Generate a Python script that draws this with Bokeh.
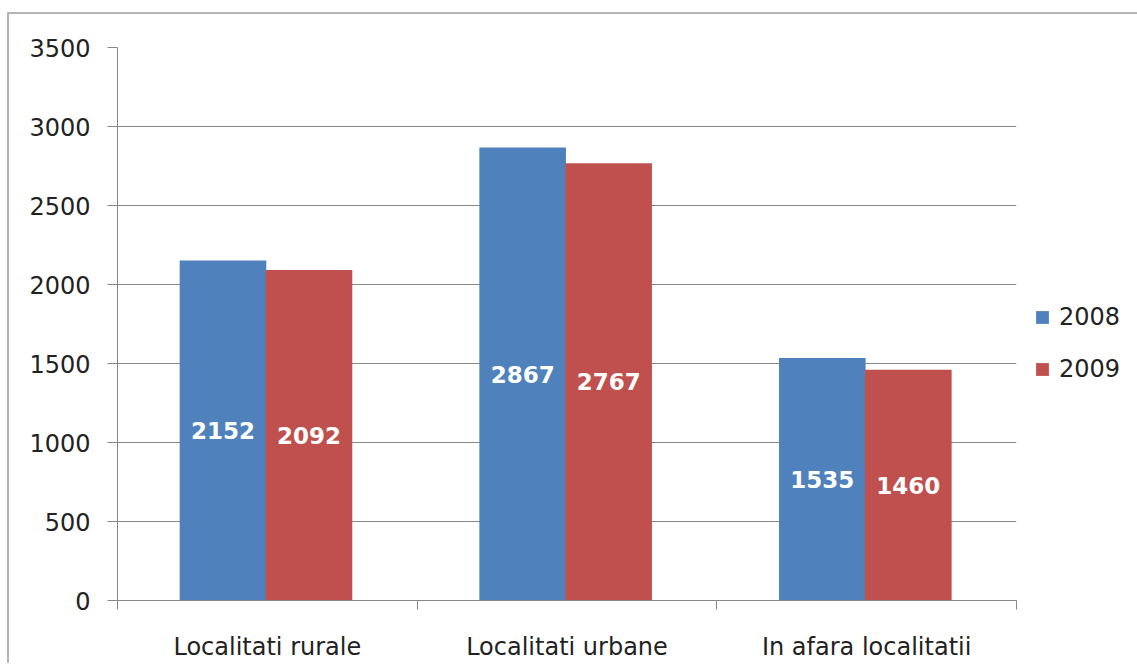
from bokeh.plotting import figure
from bokeh.models import (ColumnDataSource, Range1d, FixedTicker, Legend, LegendItem, LabelSet)
from bokeh.core.properties import value
from bokeh.embed import file_html
from bokeh.resources import INLINE

categories = ["Localitati rurale", "Localitati urbane", "In afara localitatii"]
years = ["2008", "2009"]
values_2008 = [2152, 2867, 1535]
values_2009 = [2092, 2767, 1460]
y_ticks = [0, 500, 1000, 1500, 2000, 2500, 3000, 3500]

BLUE = "#4F81BD"
RED = "#C0504D"
GRAY = "#868686"
FONT = "DejaVu Sans"

idx = list(range(len(categories)))
src08 = ColumnDataSource(dict(x=[i + 0.352 for i in idx], top=values_2008,
                              mid=[v / 2 for v in values_2008], lab=[str(v) for v in values_2008]))
src09 = ColumnDataSource(dict(x=[i + 0.639 for i in idx], top=values_2009,
                              mid=[v / 2 for v in values_2009], lab=[str(v) for v in values_2009]))

p = figure(width=1126, height=655, frame_width=899, frame_height=553,
           min_border_left=108, min_border_top=33, min_border_bottom=10, min_border_right=10,
           x_range=Range1d(0, 3), y_range=Range1d(0, 3500),
           output_backend="svg", toolbar_location=None,
           margin=(12, 0, 0, 7),
           styles={"border-top": "2px solid #b4b4b4", "border-left": "2px solid #b4b4b4"})
p.outline_line_color = None
p.background_fill_color = "white"
p.border_fill_color = "white"

r1 = p.vbar(x="x", top="top", width=0.289, bottom=0, source=src08, fill_color=BLUE, line_color=None)
r2 = p.vbar(x="x", top="top", width=0.289, bottom=0, source=src09, fill_color=RED, line_color=None)

for s in (src08, src09):
    p.add_layout(LabelSet(x="x", y="mid", text="lab", source=s, text_color="white",
                          text_font=value(FONT), text_font_style="bold", text_font_size="23px",
                          text_align="center", text_baseline="middle"))

# y axis
p.yaxis.ticker = FixedTicker(ticks=y_ticks)
p.yaxis.axis_line_color = GRAY
p.yaxis.major_tick_line_color = GRAY
p.yaxis.major_tick_out = 10
p.yaxis.major_tick_in = 0
p.yaxis.minor_tick_line_color = None
p.yaxis.major_label_text_font = FONT
p.yaxis.major_label_text_font_size = "24px"
p.yaxis.major_label_text_color = "#222222"
p.yaxis.major_label_standoff = 17

# x axis
p.xaxis.ticker = FixedTicker(ticks=[i + 0.5 for i in idx], minor_ticks=[0, 1, 2, 3])
p.xaxis.major_label_overrides = {i + 0.5: c for i, c in zip(idx, categories)}
p.xaxis.axis_line_color = GRAY
p.xaxis.major_tick_line_color = None
p.xaxis.major_tick_out = 0
p.xaxis.major_tick_in = 0
p.xaxis.minor_tick_line_color = GRAY
p.xaxis.minor_tick_out = 9
p.xaxis.minor_tick_in = 0
p.xaxis.major_label_text_font = FONT
p.xaxis.major_label_text_font_size = "24px"
p.xaxis.major_label_text_color = "#222222"
p.xaxis.major_label_standoff = 23

p.xgrid.grid_line_color = None
p.ygrid.grid_line_color = GRAY
p.ygrid.grid_line_width = 1

legend = Legend(items=[LegendItem(label=years[0], renderers=[r1]),
                       LegendItem(label=years[1], renderers=[r2])],
                location=(18, 217), orientation="vertical",
                glyph_width=16, glyph_height=16, label_text_font=FONT,
                label_text_font_size="24px", label_text_color="#222222",
                label_standoff=9, spacing=24, padding=0, margin=0,
                border_line_color=None, background_fill_alpha=0)
p.add_layout(legend, "right")

open("out.html", "w").write(file_html(p, INLINE))
